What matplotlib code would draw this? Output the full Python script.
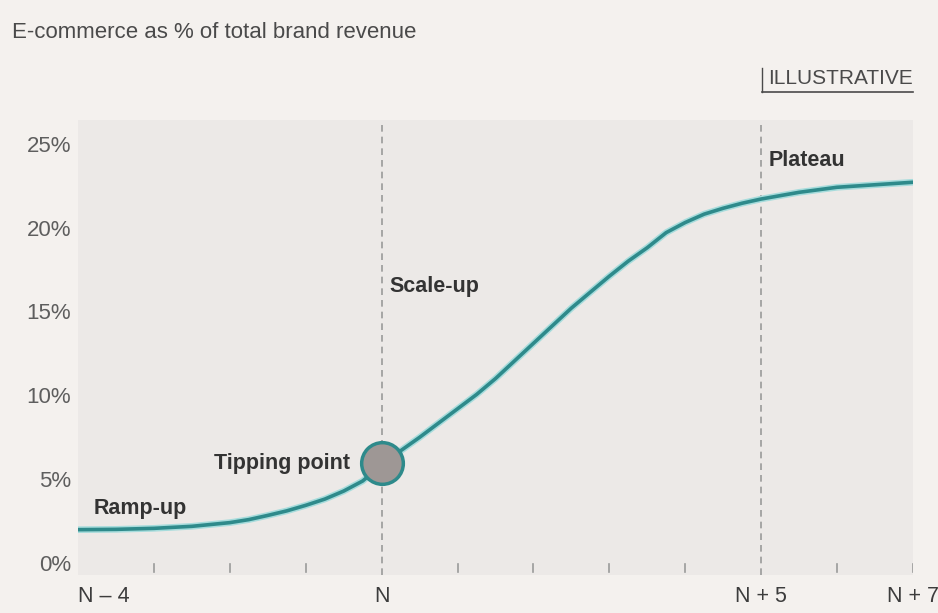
import numpy as np
import matplotlib.pyplot as plt

## data (year offset from tipping point, e-commerce share %)
years = [-4, -3.5, -3, -2.5, -2, -1.75, -1.5, -1.25, -1, -0.75, -0.5, -0.25,
         0, 0.25, 0.5, 0.75, 1, 1.25, 1.5, 1.75, 2, 2.5, 3, 3.25, 3.5, 3.75,
         4, 4.25, 4.5, 4.75, 5, 5.5, 6, 6.5, 7]
share = [2.0, 2.02, 2.08, 2.2, 2.42, 2.6, 2.85, 3.12, 3.45, 3.82, 4.3, 4.9,
         5.85, 6.7, 7.5, 8.35, 9.2, 10.05, 11.0, 12.05, 13.1, 15.2, 17.1, 18.0,
         18.8, 19.7, 20.3, 20.8, 21.15, 21.45, 21.7, 22.1, 22.4, 22.55, 22.7]
tip_x, tip_y = 0, 5.95
y_ticks = [0, 5, 10, 15, 20, 25]
x_minor = [-3, -2, -1, 1, 2, 3, 4, 6, 7]
x_labels = {-4: 'N – 4', 0: 'N', 5: 'N + 5', 7: 'N + 7'}
phases = [('Ramp-up', -3.8, 3.27, 'left'),
          ('Tipping point', -0.42, 5.95, 'right'),
          ('Scale-up', 0.1, 16.5, 'left'),
          ('Plateau', 5.1, 24.0, 'left')]

plt.rcParams['font.family'] = ['Liberation Sans', 'DejaVu Sans']
fig_bg = '#f4f1ee'
ax_bg = '#ece9e7'
teal = '#2e8a8b'
txt_gray = '#5e5e5e'

fig = plt.figure(figsize=(9.38, 6.13), dpi=100, facecolor=fig_bg)
ax = fig.add_axes([0.0832, 0.062, 0.890, 0.742])
ax.set_facecolor(ax_bg)
ax.set_xlim(-4, 7)
ax.set_ylim(-0.7, 26.4)
for s in ax.spines.values():
    s.set_visible(False)

# dashed phase dividers
for xv in [0, 5]:
    ax.axvline(xv, color='#9a9a9a', lw=1.2, ls=(0, (4, 3)), zorder=1)

# curve with light halo
ax.plot(years, share, color='#a6dcdc', lw=4.8, solid_capstyle='round',
        solid_joinstyle='round', zorder=2)
ax.plot(years, share, color=teal, lw=2.6, solid_capstyle='round',
        solid_joinstyle='round', zorder=3)
ax.scatter([tip_x], [tip_y], s=900, facecolor='#9e9795', edgecolor=teal,
           linewidth=2.5, zorder=4)

# y ticks
ax.set_yticks(y_ticks)
ax.set_yticklabels([f'{v}%' for v in y_ticks], color=txt_gray, fontsize=16)
ax.tick_params(axis='y', length=0, pad=5)

# x: small inward ticks, labels only at key years
ax.set_xticks([])
for xv in x_minor:
    ax.plot([xv, xv], [-0.55, -0.05], color='#9a9a9a', lw=1.2, zorder=1)
for xv, lab in x_labels.items():
    ha = 'left' if xv == -4 else 'center'
    ax.text(xv, -1.35, lab, ha=ha, va='top', fontsize=15.5, color='#3c3c3c',
            clip_on=False)

for lab, xv, yv, ha in phases:
    ax.text(xv, yv, lab, ha=ha, va='center', fontsize=15.5, fontweight='bold',
            color='#333333')

fig.text(12 / 938, 1 - 33 / 613, 'E-commerce as % of total brand revenue',
         ha='left', va='center', fontsize=16, color='#4a4a4a')
fig.text(913 / 938, 1 - 78 / 613, 'ILLUSTRATIVE', ha='right', va='center',
         fontsize=15, color='#4a4a4a')
# underline + left bar of the stamp
fig.add_artist(plt.Line2D([762 / 938, 913 / 938], [1 - 92 / 613, 1 - 92 / 613],
                          color='#4a4a4a', lw=1.2))
fig.add_artist(plt.Line2D([762 / 938, 762 / 938], [1 - 92 / 613, 1 - 68 / 613],
                          color='#4a4a4a', lw=1.0))

fig.savefig('out.png', dpi=100, facecolor=fig_bg)
